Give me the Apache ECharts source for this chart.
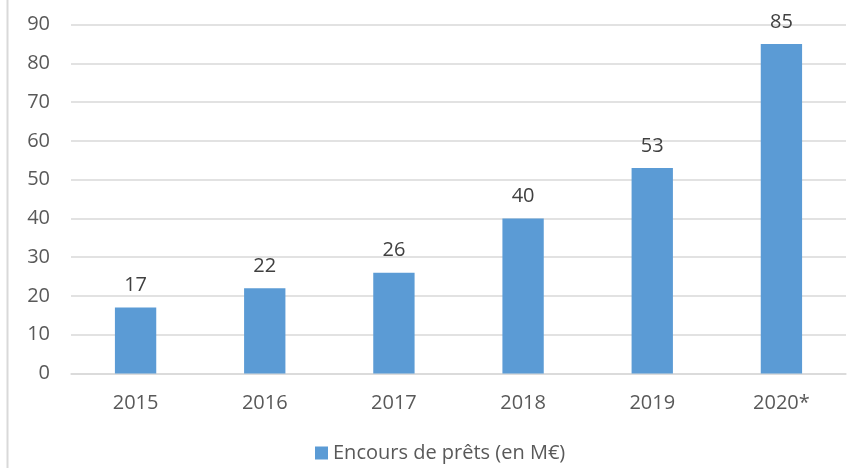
<!DOCTYPE html>
<html><head><meta charset="utf-8">
<script src="https://cdn.jsdelivr.net/npm/echarts@6/dist/echarts.min.js"></script>
<style>html,body{margin:0;padding:0;background:#fff}#c{width:852px;height:468px}</style>
</head><body><div id="c"></div>
<script>
const categories = ['2015','2016','2017','2018','2019','2020*'];
const values = [17, 22, 26, 40, 53, 85];
const yTicks = [0, 90, 10];
const seriesName = 'Encours de prêts (en M€)';

const font = '"Open Sans", "Noto Sans", sans-serif';
const chart = echarts.init(document.getElementById('c'));
chart.setOption({
  animation: false,
  backgroundColor: '#fff',
  textStyle: {fontFamily: font},
  graphic: [{type: 'line', shape: {x1: 7.5, y1: 0, x2: 7.5, y2: 468}, style: {stroke: '#d9d9d9', lineWidth: 2}}],
  grid: {left: 71, right: 6, top: 24.5, bottom: 94.5},
  legend: {
    bottom: 0, left: 310, itemWidth: 13, itemHeight: 13, itemGap: 6,
    icon: 'rect',
    textStyle: {fontSize: 20, color: '#595959', fontFamily: font},
    data: [seriesName]
  },
  xAxis: {
    type: 'category', data: categories,
    axisLine: {lineStyle: {color: '#d9d9d9', width: 1.5}},
    axisTick: {show: false},
    axisLabel: {fontSize: 20, color: '#595959', margin: 20, fontFamily: font}
  },
  yAxis: {
    type: 'value', min: yTicks[0], max: yTicks[1], interval: yTicks[2],
    axisLine: {show: false}, axisTick: {show: false},
    splitLine: {lineStyle: {color: '#d9d9d9', width: 1.5}},
    axisLabel: {fontSize: 20, color: '#595959', margin: 21, fontFamily: font}
  },
  series: [{
    name: seriesName, type: 'bar', data: values, barWidth: '32%',
    itemStyle: {color: '#5b9bd5'},
    label: {show: true, position: 'top', distance: 12, fontSize: 20, color: '#404040', fontFamily: font}
  }]
});
</script></body></html>
